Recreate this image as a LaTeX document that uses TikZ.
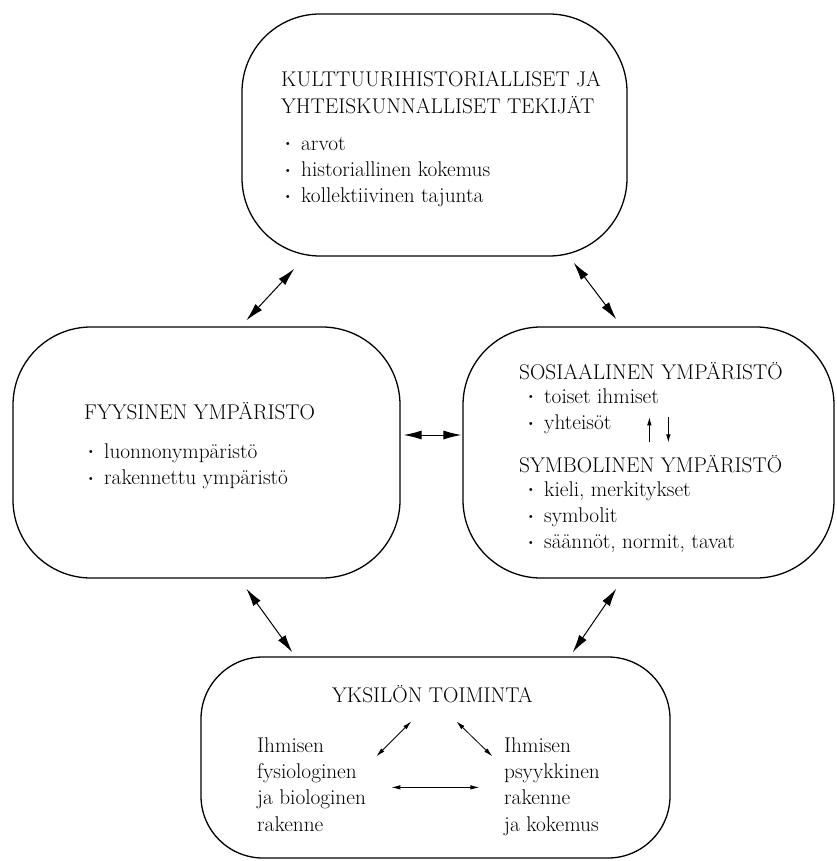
\documentclass[tikz,border=0pt]{standalone}
\usepackage{fontspec}
\usepackage{graphicx}
\usepackage{tikz}
\usetikzlibrary{calc}
\usetikzlibrary{arrows.meta}

\newcommand{\pallo}{\raisebox{0.25ex}{\scalebox{0.62}{\textbullet}}}
\newcommand{\kohta}[1]{\makebox[18pt][l]{\pallo}#1}

\begin{document}
\begin{tikzpicture}[x=1pt, y=-1pt,
		laatikko/.style= {draw, line width=1.3pt, rounded corners=78pt, inner sep=0pt},
		teksti/.style= {anchor=base west, inner sep=0pt, align=left, text=black, font=\fontsize{21.3}{26.3}\selectfont},
		iso/.style= {{Latex[length=18pt,width=9pt]}-{Latex[length=18pt,width=9pt]}, line width=1pt},
		pieni/.style= {{Latex[length=9pt,width=4.5pt]}-{Latex[length=9pt,width=4.5pt]}, line width=0.8pt},
		yksi/.style= {-{Latex[length=8pt,width=4.5pt]}, line width=0.8pt}]
	\useasboundingbox (0,0) rectangle (836,861);
	% laatikot
	\node [laatikko, minimum width=385pt, minimum height=242pt] (kult) at (434.5,135) {};
	\node [laatikko, minimum width=387pt, minimum height=251pt] (fyys) at (206.5,452.5) {};
	\node [laatikko, minimum width=371pt, minimum height=251pt] (sos) at (648.5,452.5) {};
	\node [laatikko, minimum width=469pt, minimum height=201pt, rounded corners=62pt] (yks) at (435.5,757.5) {};
	% ylin laatikko (base = viimeisen rivin peruslinja)
	\node [teksti] (kultotsikko) at (281,113.3) {KULTTUURIHISTORIALLISET JA\\YHTEISKUNNALLISET TEKIJÄT};
	\node [teksti] (kultlista) at (283,202.6) {\kohta{arvot}\\\kohta{historiallinen kokemus}\\\kohta{kollektiivinen tajunta}};
	% vasen laatikko
	\node [teksti] (fyysotsikko) at (84,419) {FYYSINEN YMPÄRISTO};
	\node [teksti] (fyyslista) at (86,484.3) {\kohta{luonnonympäristö}\\\kohta{rakennettu ympäristö}};
	% oikea laatikko
	\node [teksti] (sosotsikko) at (519,379) {SOSIAALINEN YMPÄRISTÖ};
	\node [teksti] (soslista) at (526,429.3) {\kohta{toiset ihmiset}\\\kohta{yhteisöt}};
	\node [teksti] (symotsikko) at (519,472) {SYMBOLINEN YMPÄRISTÖ};
	\node [teksti] (symlista) at (526,548.6) {\kohta{kieli, merkitykset}\\\kohta{symbolit}\\\kohta{säännöt, normit, tavat}};
	% alin laatikko
	\node [teksti] (toiminta) at (332,702) {YKSILÖN TOIMINTA};
	\node [teksti] (fysio) at (257,831) {Ihmisen\\fysiologinen\\ja biologinen\\rakenne};
	\node [teksti] (psyyk) at (504,831) {Ihmisen\\psyykkinen\\rakenne\\ja kokemus};
	% nuolet laatikoiden valilla
	\draw [iso] ([shift={(53,12)}]kult.south west) -- ([shift={(234,-6)}]fyys.north west);
	\draw [iso] ([shift={(-54,6)}]kult.south east) -- ([shift={(154,-7)}]sos.north west);
	\draw [iso] ([shift={(3,-17.5)}]fyys.east) -- ([shift={(-1,-17.5)}]sos.west);
	\draw [iso] ([shift={(234,10)}]fyys.south west) -- ([shift={(92,-4)}]yks.north west);
	\draw [iso] ([shift={(154,10)}]sos.south west) -- ([shift={(-98,-4)}]yks.north east);
	% pienet nuolet
	\draw [yksi] ([shift={(187,116)}]sos.north west) -- ([shift={(187,91)}]sos.north west);
	\draw [yksi] ([shift={(206,91)}]sos.north west) -- ([shift={(206,116)}]sos.north west);
	\draw [pieni] ([shift={(176,100)}]yks.north west) -- ([shift={(211,65)}]yks.north west);
	\draw [pieni] ([shift={(256,65)}]yks.north west) -- ([shift={(292,100)}]yks.north west);
	\draw [pieni] ([shift={(191,131)}]yks.north west) -- ([shift={(279,131)}]yks.north west);
\end{tikzpicture}
\end{document}
